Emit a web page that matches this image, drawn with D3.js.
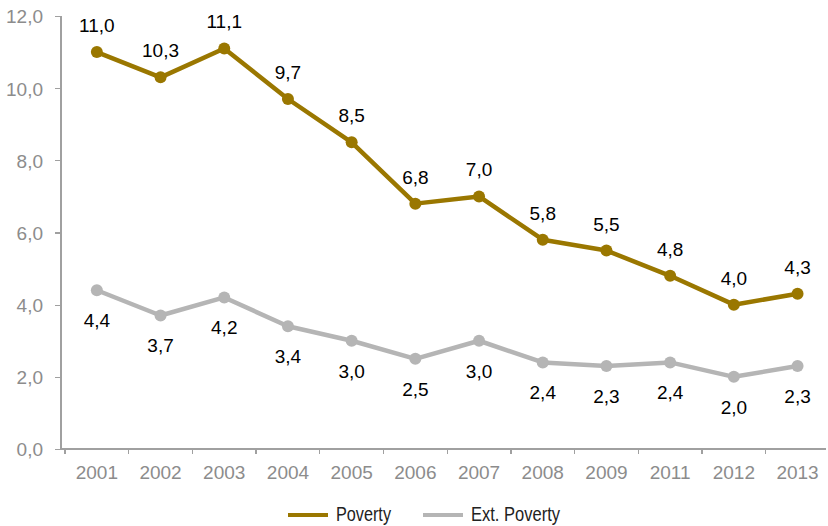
<!DOCTYPE html>
<html lang="en">
    <head>
        <meta charset="utf-8">
        <title>Poverty</title>
        <script type="text/javascript" src="https://cdn.jsdelivr.net/npm/d3@7"></script>
        <style type="text/css">
        body { margin: 0; background: #fff; }
        .axis path,
        .axis line {
            fill: none;
            stroke: #a0a0a0;
            stroke-width: 1.3px;
            shape-rendering: crispEdges;
        }
        .axis text {
            font-family: "Liberation Sans", Arial, sans-serif;
            font-size: 19px;
            fill: #8c8c8c;
        }
        .lbl {
            font-family: "Liberation Sans", Arial, sans-serif;
            font-size: 19px;
            fill: #000;
        }
        .legend text {
            font-family: "Liberation Sans", Arial, sans-serif;
            font-size: 20px;
            fill: #222;
        }
        </style>
    </head>
    <body>
        <script>
                var w = 828;
                var h = 526;

                var years = ["2001", "2002", "2003", "2004", "2005", "2006", "2007", "2008", "2009", "2011", "2012", "2013"];
                var poverty = [11.0, 10.3, 11.1, 9.7, 8.5, 6.8, 7.0, 5.8, 5.5, 4.8, 4.0, 4.3];
                var extPoverty = [4.4, 3.7, 4.2, 3.4, 3.0, 2.5, 3.0, 2.4, 2.3, 2.4, 2.0, 2.3];
                var yTicks = [0, 2, 4, 6, 8, 10, 12];

                var goldColor = "#9a7700";
                var grayColor = "#b5b5b5";

                var fmt = function (v) { return v.toFixed(1).replace(".", ","); };

                var xScale = d3.scaleBand()
                  .domain(years)
                  .range([65, 829.4]);

                var yScale = d3.scaleLinear()
                  .domain([0, 12])
                  .range([449, 16]);

                var svg = d3.select("body")
                  .append("svg")
                  .attr("width", w)
                  .attr("height", h);

                // y axis
                var yAxis = svg.append("g")
                  .attr("class", "axis")
                  .attr("transform", "translate(61,0)")
                  .call(d3.axisLeft(yScale).tickValues(yTicks).tickFormat(fmt).tickSize(6).tickPadding(12));
                yAxis.select(".domain").remove();
                yAxis.append("line")
                  .attr("x1", 0).attr("x2", 0)
                  .attr("y1", yScale(12)).attr("y2", yScale(0));
                yAxis.selectAll(".tick text").attr("dy", "0.36em");

                // x axis
                var xAxis = svg.append("g")
                  .attr("class", "axis")
                  .attr("transform", "translate(0,449)")
                  .call(d3.axisBottom(xScale).tickSize(0).tickPadding(12));
                xAxis.select(".domain").remove();
                xAxis.append("line")
                  .attr("x1", 61).attr("x2", 826)
                  .attr("y1", 0).attr("y2", 0);
                xAxis.selectAll(".sep")
                  .data(years)
                  .enter().append("line")
                  .attr("class", "sep")
                  .attr("x1", function (d) { return xScale(d); })
                  .attr("x2", function (d) { return xScale(d); })
                  .attr("y1", 0).attr("y2", 5);
                xAxis.selectAll(".tick text").attr("dy", "0.95em");

                var cx = function (d, i) { return xScale(years[i]) + xScale.bandwidth() / 2; };

                var line = d3.line()
                  .x(function (d, i) { return cx(d, i); })
                  .y(function (d) { return yScale(d); });

                function drawSeries(data, color, dy) {
                    var g = svg.append("g");
                    g.append("path")
                      .datum(data)
                      .attr("fill", "none")
                      .attr("stroke", color)
                      .attr("stroke-width", 4.5)
                      .attr("stroke-linejoin", "round")
                      .attr("d", line);
                    g.selectAll("circle")
                      .data(data)
                      .enter().append("circle")
                      .attr("cx", cx)
                      .attr("cy", function (d) { return yScale(d); })
                      .attr("r", 6)
                      .attr("fill", color);
                    g.selectAll("text")
                      .data(data)
                      .enter().append("text")
                      .attr("class", "lbl")
                      .attr("text-anchor", "middle")
                      .attr("x", cx)
                      .attr("y", function (d) { return yScale(d) + dy; })
                      .text(fmt);
                }

                drawSeries(extPoverty, grayColor, 37);
                drawSeries(poverty, goldColor, -20);

                // legend (condensed look via textLength)
                var legend = svg.append("g").attr("class", "legend");
                var items = [["Poverty", goldColor, 288, 55], ["Ext. Poverty", grayColor, 423, 89]];
                items.forEach(function (it) {
                    legend.append("line")
                      .attr("x1", it[2]).attr("x2", it[2] + 40)
                      .attr("y1", 515).attr("y2", 515)
                      .attr("stroke", it[1])
                      .attr("stroke-width", 4);
                    legend.append("text")
                      .attr("x", it[2] + 48)
                      .attr("y", 521)
                      .attr("textLength", it[3])
                      .attr("lengthAdjust", "spacingAndGlyphs")
                      .text(it[0]);
                });
            </script>
    </body>
</html>
